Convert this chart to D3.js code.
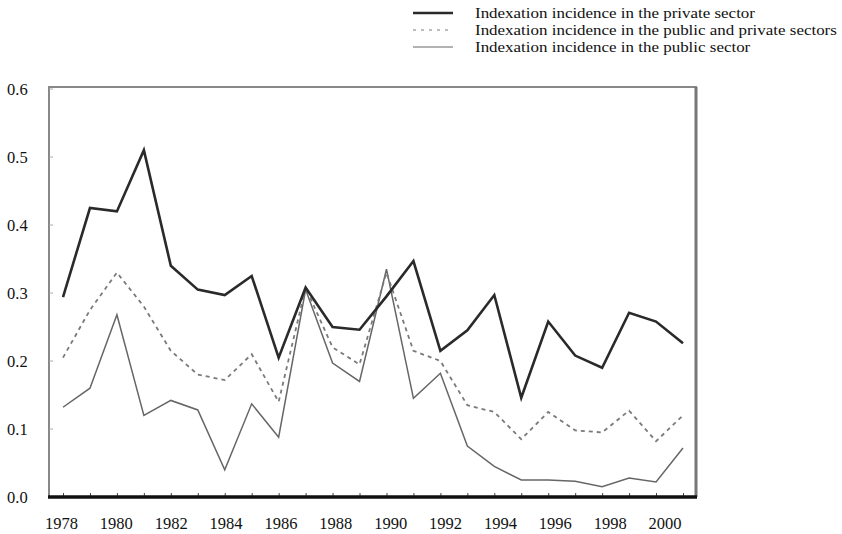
<!DOCTYPE html>
<html>
<head>
<meta charset="utf-8">
<script src="https://cdn.jsdelivr.net/npm/d3@7"></script>
<style>
    body { margin: 0; background: #fff; }
    text { font-family: "Liberation Serif", "Times New Roman", serif; fill: #111; }
</style>
</head>
<body>
<svg id="chart" width="842" height="534"></svg>
<script>
var years = d3.range(1978, 2002);
var privateSector = [0.294, 0.425, 0.420, 0.510, 0.340, 0.305, 0.297, 0.325, 0.205, 0.308, 0.250, 0.246,
    0.295, 0.347, 0.215, 0.245, 0.297, 0.146, 0.258, 0.208, 0.190, 0.271, 0.258, 0.226];
var publicPrivate = [0.205, 0.275, 0.330, 0.280, 0.215, 0.180, 0.172, 0.210, 0.140, 0.308, 0.220, 0.195,
    0.330, 0.215, 0.200, 0.135, 0.125, 0.085, 0.125, 0.098, 0.095, 0.127, 0.082, 0.120];
var publicSector = [0.132, 0.160, 0.268, 0.120, 0.142, 0.128, 0.040, 0.137, 0.088, 0.305, 0.197, 0.170,
    0.335, 0.145, 0.182, 0.075, 0.045, 0.025, 0.025, 0.023, 0.015, 0.028, 0.022, 0.072];
var yTicks = [0, 0.1, 0.2, 0.3, 0.4, 0.5, 0.6];
var xTickLabels = d3.range(1978, 2001, 2);
var legendLabels = [
    "Indexation incidence in the private sector",
    "Indexation incidence in the public and private sectors",
    "Indexation incidence in the public sector"
];

var series = [
    {values: privateSector, color: "#2a2a2a", width: 2.6, dash: null},
    {values: publicPrivate, color: "#7a7a7a", width: 1.8, dash: "4,4"},
    {values: publicSector, color: "#666", width: 1.5, dash: null}
];

var svg = d3.select("#chart");
var frame = {left: 49, right: 696, top: 87, bottom: 497};

var x = d3.scaleLinear().domain([1978, 2001]).range([63, 683]);
// the year labels sit on a slightly wider spacing than the data points
var xLabel = d3.scaleLinear().domain([1978, 2000]).range([61.5, 665]);
var y = d3.scaleLinear().domain([0, 0.6]).range([497, 89]);

// frame
svg.append("rect")
    .attr("x", frame.left).attr("y", frame.top)
    .attr("width", frame.right - frame.left).attr("height", frame.bottom - frame.top)
    .attr("fill", "#fff").attr("stroke", "#888").attr("stroke-width", 2);
svg.append("line")
    .attr("x1", frame.right).attr("x2", frame.right)
    .attr("y1", frame.top).attr("y2", frame.bottom)
    .attr("stroke", "#777").attr("stroke-width", 3);

// y ticks inside left edge
svg.selectAll(".ytick").data(yTicks).enter().append("line")
    .attr("x1", frame.left).attr("x2", frame.left + 4)
    .attr("y1", function(d) { return y(d); }).attr("y2", function(d) { return y(d); })
    .attr("stroke", "#aaa").attr("stroke-width", 1);

svg.selectAll(".ylabel").data(yTicks).enter().append("text")
    .attr("x", 7).attr("y", function(d) { return y(d) + 5.5; })
    .attr("font-size", "16.5px")
    .text(function(d) { return d.toFixed(1); });

// bottom axis
var xAxis = d3.axisBottom(x).tickValues(years).tickSize(-4).tickFormat("");
var axisG = svg.append("g").attr("transform", "translate(0," + frame.bottom + ")").call(xAxis);
axisG.select(".domain").remove();
axisG.selectAll(".tick line").attr("stroke", "#444");
svg.append("line")
    .attr("x1", frame.left - 1).attr("x2", frame.right + 1)
    .attr("y1", frame.bottom).attr("y2", frame.bottom)
    .attr("stroke", "#111").attr("stroke-width", 3.5);

svg.selectAll(".xlabel").data(xTickLabels).enter().append("text")
    .attr("x", function(d) { return xLabel(d); }).attr("y", 529)
    .attr("text-anchor", "middle")
    .attr("font-size", "16.5px")
    .text(function(d) { return d; });

// lines
var line = d3.line()
    .x(function(d, i) { return x(years[i]); })
    .y(function(d) { return y(d); });

series.slice().reverse().forEach(function(s) {
    svg.append("path")
        .datum(s.values)
        .attr("d", line)
        .attr("fill", "none")
        .attr("stroke", s.color)
        .attr("stroke-width", s.width)
        .attr("stroke-dasharray", s.dash)
        .attr("stroke-linejoin", "miter");
});

// legend (text a bit wide, so stretch it rather than grow it)
var legend = svg.append("g");
legendLabels.forEach(function(label, i) {
    var ly = 13 + i * 17;
    legend.append("line")
        .attr("x1", 413).attr("x2", 453)
        .attr("y1", ly).attr("y2", ly)
        .attr("stroke", series[i].color)
        .attr("stroke-width", i === 0 ? 2.4 : 1.2)
        .attr("stroke-dasharray", i === 1 ? "3,5" : null);
    legend.append("text")
        .attr("transform", "translate(475," + (ly + 5) + ") scale(1.13,1)")
        .attr("font-size", "15px")
        .text(label);
});
</script>
</body>
</html>
